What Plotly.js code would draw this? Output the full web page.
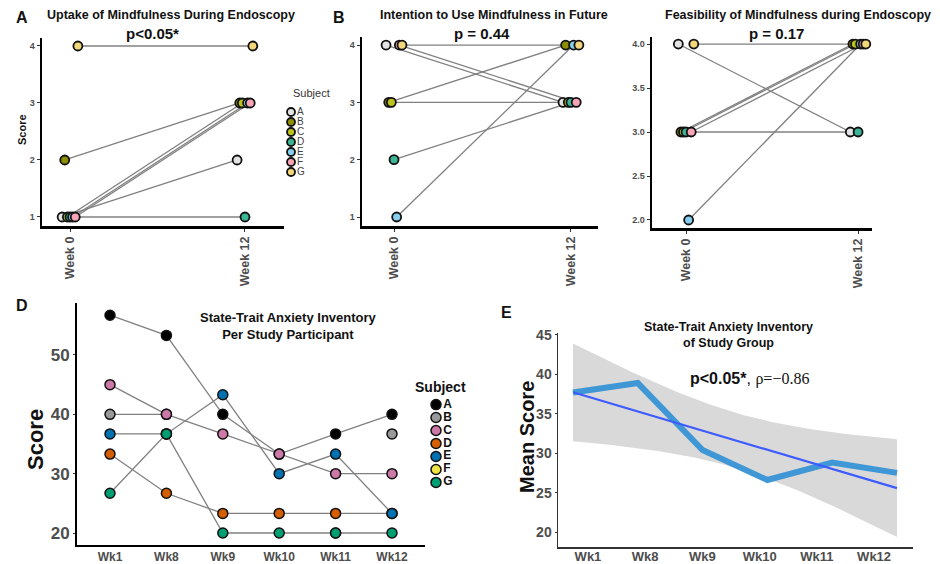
<!DOCTYPE html>
<html>
<head>
<meta charset="utf-8">
<script src="https://cdn.plot.ly/plotly-3.0.1.min.js"></script>
<style>html,body{margin:0;padding:0;background:#fff;}#chart{width:940px;height:564px;}</style>
</head>
<body>
<div id="chart"></div>
<script>
// ---------- data ----------
const subjects = ['A','B','C','D','E','F','G'];
const prePost = ['Week 0','Week 12'];
const uptakeWeek0 = [1,2,1,1,1,1,4];
const uptakeWeek12 = [2,3,3,1,3,3,4];
const intentionWeek0 = [4,3,3,2,1,4,4];
const intentionWeek12 = [3,4,3,3,4,3,4];
const feasibilityWeek0 = [4,3,3,3,2,3,4];
const feasibilityWeek12 = [3,4,4,3,4,4,4];

const staiWeeks = ['Wk1','Wk8','Wk9','Wk10','Wk11','Wk12'];
const staiA = [56.7,53.3,40,33.3,36.7,40];
const staiB = [40,40,null,null,null,36.7];
const staiC = [45,40,36.7,33.3,30,30];
const staiD = [33.3,26.7,23.3,23.3,23.3,23.3];
const staiE = [36.7,36.7,43.3,30,33.3,23.3];
const staiF = [null,36.7,null,null,20,null];
const staiG = [26.7,36.7,20,20,20,20];
const staiMean = [37.7,38.9,30.4,26.6,28.8,27.5];

// ---------- styles ----------
const W = 940, H = 564;
const FONT = 'Liberation Sans, Arial, sans-serif';
const pastel = ['#e3e3e3','#8e8e00','#bcc21c','#3bb596','#86cdee','#f6a4b6','#f2d67a'];
const okabe = ['#000000','#999999','#CC79A7','#D55E00','#0072B2','#F0E442','#009E73'];
const dodge = [-0.045,-0.03,-0.015,0,0.015,0.03,0.045];
const staiSeries = [staiA,staiB,staiC,staiD,staiE,staiF,staiG];

function dx(a,b){return [a/W,b/W];}
function dy(top,bottom){return [1-bottom/H,1-top/H];}

const traces = [];

function prePostPanel(xa, ya, w0, w12){
  subjects.forEach((s,i)=>{
    traces.push({type:'scatter',mode:'lines',xaxis:xa,yaxis:ya,
      x:[0+dodge[i],1+dodge[i]], y:[w0[i],w12[i]],
      line:{color:'#808080',width:1.3},hoverinfo:'skip'});
  });
  subjects.forEach((s,i)=>{
    traces.push({type:'scatter',mode:'markers',xaxis:xa,yaxis:ya,name:s,
      x:[0+dodge[i],1+dodge[i]], y:[w0[i],w12[i]],
      marker:{size:9,color:pastel[i],line:{color:'#111',width:1.8}}});
  });
}
prePostPanel('x','y',uptakeWeek0,uptakeWeek12);
prePostPanel('x2','y2',intentionWeek0,intentionWeek12);
prePostPanel('x3','y3',feasibilityWeek0,feasibilityWeek12);

// Panel D
const idx = staiWeeks.map((w,i)=>i);
staiSeries.forEach((ser,i)=>{
  traces.push({type:'scatter',mode:'lines',xaxis:'x4',yaxis:'y4',x:idx,y:ser,
    connectgaps:false,line:{color:'#808080',width:1.3},hoverinfo:'skip'});
});
staiSeries.forEach((ser,i)=>{
  traces.push({type:'scatter',mode:'markers',xaxis:'x4',yaxis:'y4',x:idx,y:ser,name:subjects[i],
    marker:{size:10,color:okabe[i],line:{color:'#111',width:1.5}}});
});

// Panel E: linear fit with 95% CI
const n = staiMean.length;
const mx = idx.reduce((a,b)=>a+b,0)/n;
const my = staiMean.reduce((a,b)=>a+b,0)/n;
let sxx=0,sxy=0;
idx.forEach((x,i)=>{sxx+=(x-mx)*(x-mx);sxy+=(x-mx)*(staiMean[i]-my);});
const slope = sxy/sxx, icpt = my - slope*mx;
let sse=0; idx.forEach((x,i)=>{const r=staiMean[i]-(icpt+slope*x); sse+=r*r;});
const sres = Math.sqrt(sse/(n-2));
const tq = 2.776; // qt(0.975, 4)
const gx=[],up=[],lo=[],fit=[];
for(let k=0;k<=80;k++){
  const x = (n-1)*k/80;
  const f = icpt+slope*x;
  const se = sres*Math.sqrt(1/n+(x-mx)*(x-mx)/sxx);
  gx.push(x); fit.push(f); up.push(f+tq*se); lo.push(f-tq*se);
}
traces.push({type:'scatter',mode:'lines',xaxis:'x6',yaxis:'y6',
  x:gx.concat(gx.slice().reverse()), y:up.concat(lo.slice().reverse()),
  fill:'toself',fillcolor:'#d9d9d9',line:{width:0},hoverinfo:'skip'});
traces.push({type:'scatter',mode:'lines',xaxis:'x6',yaxis:'y6',x:idx,y:staiMean,
  line:{color:'#3f97d6',width:6}});
traces.push({type:'scatter',mode:'lines',xaxis:'x6',yaxis:'y6',x:gx,y:fit,
  line:{color:'#3d5cff',width:2.2}});
traces.push({type:'scatter',mode:'none',xaxis:'x7',yaxis:'y6',x:idx,y:staiMean,hoverinfo:'skip'});

// Legends (as small scatter on hidden axes)
traces.push({type:'scatter',mode:'markers+text',xaxis:'x8',yaxis:'y8',
  x:subjects.map(()=>0), y:subjects.map((s,i)=>i), text:subjects, textposition:'middle right',
  textfont:{family:FONT,size:10,color:'#444'},
  marker:{size:8,color:pastel,line:{color:'#111',width:1.8}},hoverinfo:'skip'});
traces.push({type:'scatter',mode:'markers+text',xaxis:'x9',yaxis:'y9',
  x:subjects.map(()=>0), y:subjects.map((s,i)=>i), text:subjects, textposition:'middle right',
  textfont:{family:FONT,size:12,color:'#111',weight:700},
  marker:{size:10,color:okabe,line:{color:'#111',width:1.5}},hoverinfo:'skip'});

// ---------- axes ----------
const tickGray = '#4d4d4d';
function preX(domain, range, anchor){
  return {domain, range, anchor, tickmode:'array', tickvals:[0,1], ticktext:prePost, tickangle:-90,
    showline:true, linecolor:'#000', linewidth:2.5, ticks:'outside', ticklen:3, tickcolor:'#333',
    tickfont:{family:FONT,size:12.5,color:tickGray,weight:700}, showgrid:false, zeroline:false, fixedrange:true};
}
function preY(domain, range, anchor, vals, txt){
  return {domain, range, anchor, tickmode:'array', tickvals:vals, ticktext:txt,
    showline:true, linecolor:'#000', linewidth:2.5, ticks:'outside', ticklen:3, tickcolor:'#333',
    tickfont:{family:FONT,size:9,color:tickGray,weight:700}, showgrid:false, zeroline:false, fixedrange:true};
}
const hidden = (domain, range, anchor)=>({domain, range, anchor, visible:false, fixedrange:true});

const layout = {
  width:W, height:H, margin:{l:0,r:0,t:0,b:0}, showlegend:false,
  paper_bgcolor:'#fff', plot_bgcolor:'rgba(0,0,0,0)', font:{family:FONT},
  xaxis: preX(dx(42,284), [-0.16,1.223], 'y'),
  yaxis: preY(dy(38,226), [0.842,4.14], 'x', [1,2,3,4], ['1','2','3','4']),
  xaxis2: preX(dx(362,598), [-0.181,1.153], 'y2'),
  yaxis2: preY(dy(37,226), [0.843,4.14], 'x2', [1,2,3,4], ['1','2','3','4']),
  xaxis3: preX(dx(652,872), [-0.198,1.081], 'y3'),
  yaxis3: preY(dy(37,228), [1.909,4.08], 'x3', [2,2.5,3,3.5,4], ['2.0','2.5','3.0','3.5','4.0']),
  xaxis4: {domain:dx(77,425), range:[-0.585,5.585], anchor:'y4', tickmode:'array', tickvals:idx, ticktext:staiWeeks,
    showline:true, linecolor:'#000', linewidth:2, ticks:'', tickfont:{family:FONT,size:12,color:tickGray,weight:700},
    showgrid:false, zeroline:false, fixedrange:true},
  yaxis4: {domain:dy(303,545), range:[17.98,58.76], anchor:'x4', tickmode:'array', tickvals:[20,30,40,50],
    showline:true, linecolor:'#000', linewidth:2, ticks:'outside', ticklen:2, tickcolor:'#333',
    tickfont:{family:FONT,size:17,color:tickGray,weight:700}, showgrid:false, zeroline:false, fixedrange:true},
  xaxis6: {domain:dx(558,913), range:[-0.231,5.247], anchor:'y6', showticklabels:false, ticks:'',
    showline:true, linecolor:'#333', linewidth:1.5, showgrid:false, zeroline:false, fixedrange:true},
  xaxis7: {overlaying:'x6', range:[-0.524,5.68], anchor:'y6', tickmode:'array', tickvals:idx, ticktext:staiWeeks,
    showline:false, ticks:'', tickfont:{family:FONT,size:13,color:tickGray,weight:700}, showgrid:false, zeroline:false, fixedrange:true},
  yaxis6: {domain:dy(333,547), range:[18.1,45.25], anchor:'x6', tickmode:'array', tickvals:[20,25,30,35,40,45],
    showline:true, linecolor:'#333', linewidth:1.5, ticks:'outside', ticklen:2, tickcolor:'#333',
    tickfont:{family:FONT,size:14,color:tickGray,weight:700}, showgrid:false, zeroline:false, fixedrange:true},
  xaxis8: hidden(dx(281,341), [-10,50], 'y8'),
  yaxis8: hidden(dy(100,184), [7.2,-1.2], 'x8'),
  xaxis9: hidden(dx(426,486), [-10,50], 'y9'),
  yaxis9: hidden(dy(389,498), [7.2,-1.2], 'x9'),
  annotations: []
};

function ann(text, px, py, size, extra){
  return Object.assign({text, x:px/W, y:1-py/H, xref:'paper', yref:'paper', showarrow:false,
    xanchor:'center', yanchor:'middle', font:{family:FONT,size,color:'#111',weight:700}}, extra||{});
}
layout.annotations.push(
  ann('A', 22, 17, 16),
  ann('Uptake of Mindfulness During Endoscopy', 171, 15, 12.5),
  ann('p&lt;0.05*', 152, 33, 15),
  ann('Score', 22, 130, 11, {textangle:-90}),
  ann('Subject', 311, 93, 11, {font:{family:FONT,size:11,color:'#333',weight:400}}),
  ann('B', 339, 17, 16),
  ann('Intention to Use Mindfulness in Future', 494, 15, 12.5),
  ann('p = 0.44', 482, 33, 15),
  ann('Feasibility of Mindfulness during Endoscopy', 798, 15, 12.5),
  ann('p = 0.17', 776, 33, 15),
  ann('D', 22, 305, 16),
  ann('State-Trait Anxiety Inventory<br>Per Study Participant', 288, 326, 13),
  ann('Score', 35, 440, 22, {textangle:-90}),
  ann('Subject', 440, 387, 14),
  ann('E', 506, 312, 16),
  ann('State-Trait Anxiety Inventory<br>of Study Group', 728, 335, 12.5),
  ann('<b>p&lt;0.05*</b>, <span style="font-family:Liberation Serif, Times New Roman, serif">ρ=−0.86</span>', 688, 379, 16,
      {xanchor:'left', font:{family:FONT,size:16,color:'#111',weight:400}}),
  ann('Mean Score', 527, 437, 20, {textangle:-90})
);

Plotly.newPlot('chart', traces, layout, {displayModeBar:false, staticPlot:true});
</script>
</body>
</html>
